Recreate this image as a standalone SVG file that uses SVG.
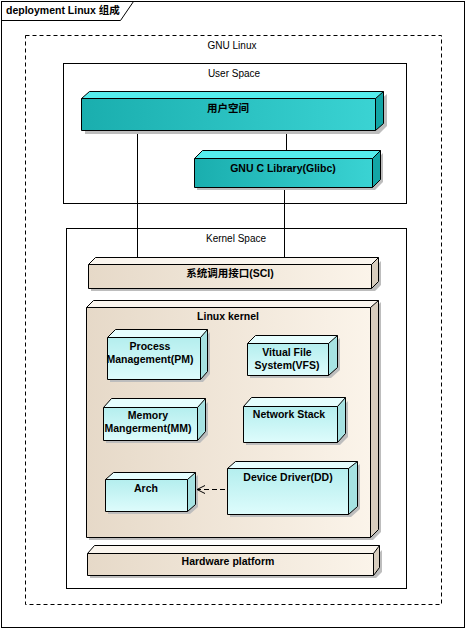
<svg xmlns="http://www.w3.org/2000/svg" width="466" height="629" viewBox="0 0 466 629">
<defs>
<linearGradient id="teal" x1="0" y1="0" x2="1" y2="0">
<stop offset="0" stop-color="#1AAEAE"/><stop offset="1" stop-color="#3AD3D3"/>
</linearGradient>
<linearGradient id="beige" x1="0" y1="0" x2="1" y2="0">
<stop offset="0" stop-color="#E6D9C8"/><stop offset="1" stop-color="#FBF4EA"/>
</linearGradient>
<linearGradient id="cyan" x1="0" y1="0" x2="0" y2="1">
<stop offset="0" stop-color="#B4EEEE"/><stop offset="1" stop-color="#DEFCFC"/>
</linearGradient>
<marker id="open" markerWidth="10" markerHeight="10" refX="9" refY="5" orient="auto" markerUnits="userSpaceOnUse">
<path d="M1,1 L9,5 L1,9" fill="none" stroke="#000" stroke-width="1"/>
</marker>
<style>
text{font-family:"Liberation Sans","Noto Sans CJK SC",sans-serif;font-size:10px;fill:#000}
.b{font-weight:bold;font-size:10.5px}
.shadow{fill:#BDBDBD}
.edge{stroke:#000;stroke-width:1}
.tealT{fill:#55EDED}.tealS{fill:#12A5A5}
.begT{fill:#FAF5EE}.begS{fill:#D8CDBE}
.cyT{fill:#E6FEFE}.cyS{fill:#A6E2E2}
</style>
</defs>
<!-- frame -->
<g id="frame">
<rect x="1.5" y="1.5" width="463" height="626" fill="#fff" stroke="#000"/>
<path d="M1.5,20.5 H120.5 L133.5,1.5" fill="none" stroke="#000"/>
<text x="6" y="14" class="b">deployment Linux 组成</text>
</g>
<g id="gnu-linux">
<rect x="25.5" y="35.5" width="416" height="569" fill="none" stroke="#000" stroke-dasharray="4,3"/>
<text x="232" y="49" text-anchor="middle">GNU Linux</text>
</g>
<g id="user-space">
<rect x="63.5" y="63.5" width="343" height="140" fill="#fff" stroke="#000"/>
<text x="234" y="77" text-anchor="middle">User Space</text>
</g>
<g id="kernel-space">
<rect x="66.5" y="228.5" width="340" height="360" fill="#fff" stroke="#000"/>
<text x="236" y="242" text-anchor="middle">Kernel Space</text>
</g>
<!-- connectors -->
<g id="connectors" fill="none">
<line class="edge" x1="137.5" y1="131" x2="137.5" y2="257"/>
<line class="edge" x1="286.5" y1="131" x2="286.5" y2="151"/>
<line class="edge" x1="284.5" y1="187" x2="284.5" y2="257"/>
</g>
<g id="user-node">
<path class="shadow" d="M85,101 H379 L387,94 V126 L379,134 H85 Z"/>
<polygon class="tealT" points="81.5,98.5 89.5,91.5 383.5,91.5 375.5,98.5"/>
<polygon class="tealS" points="375.5,98.5 383.5,91.5 383.5,123.5 375.5,130.5"/>
<rect x="81.5" y="98.5" width="294" height="32" fill="url(#teal)"/>
<path d="M81.5,98.5 L89.5,91.5 H383.5 V123.5 L375.5,130.5 H81.5 Z M81.5,98.5 H375.5 V130.5 M375.5,98.5 L383.5,91.5" fill="none" stroke="#000"/>
<text x="228" y="112" text-anchor="middle" class="b">用户空间</text>
</g>
<g id="glibc-node">
<path class="shadow" d="M197,161 H375 L383,153 V182 L375,190 H197 Z"/>
<polygon class="tealT" points="194.5,158.5 202.5,150.5 380.5,150.5 372.5,158.5"/>
<polygon class="tealS" points="372.5,158.5 380.5,150.5 380.5,179.5 372.5,187.5"/>
<rect x="194.5" y="158.5" width="178" height="29" fill="url(#teal)"/>
<path d="M194.5,158.5 L202.5,150.5 H380.5 V179.5 L372.5,187.5 H194.5 Z M194.5,158.5 H372.5 V187.5 M372.5,158.5 L380.5,150.5" fill="none" stroke="#000"/>
<text x="283" y="172" text-anchor="middle" class="b">GNU C Library(Glibc)</text>
</g>
<g id="sci-node">
<path class="shadow" d="M91,267 H375 L381,261 V285 L375,291 H91 Z"/>
<polygon class="begT" points="88.5,264.5 95.5,257.5 378.5,257.5 371.5,264.5"/>
<polygon class="begS" points="371.5,264.5 378.5,257.5 378.5,281.5 371.5,288.5"/>
<rect x="88.5" y="264.5" width="283" height="24" fill="url(#beige)"/>
<path d="M88.5,264.5 L95.5,257.5 H378.5 V281.5 L371.5,288.5 H88.5 Z M88.5,264.5 H371.5 V288.5 M371.5,264.5 L378.5,257.5" fill="none" stroke="#000"/>
<text x="230" y="277" text-anchor="middle" class="b">系统调用接口(SCI)</text>
</g>
<g id="kernel-node">
<path class="shadow" d="M89,310 H373 L381,302 V532 L373,540 H89 Z"/>
<polygon class="begT" points="86.5,307.5 93.5,300.5 378.5,300.5 371.5,307.5"/>
<polygon class="begS" points="370.5,307.5 378.5,300.5 378.5,529.5 370.5,537.5"/>
<rect x="86.5" y="307.5" width="284" height="230" fill="url(#beige)"/>
<path d="M86.5,307.5 L93.5,300.5 H378.5 V529.5 L370.5,537.5 H86.5 Z M86.5,307.5 H370.5 V537.5 M370.5,307.5 L378.5,300.5" fill="none" stroke="#000"/>
<text x="228" y="320" text-anchor="middle" class="b">Linux kernel</text>
</g>
<g id="pm-node">
<path class="shadow" d="M110,340 H203 L210,332 V374 L203,382 H110 Z"/>
<polygon class="cyT" points="107.5,337.5 115.5,329.5 207.5,329.5 200.5,337.5"/>
<polygon class="cyS" points="200.5,337.5 207.5,329.5 207.5,371.5 200.5,379.5"/>
<rect x="107.5" y="337.5" width="93" height="42" fill="url(#cyan)"/>
<path d="M107.5,337.5 L115.5,329.5 H207.5 V371.5 L200.5,379.5 H107.5 Z M107.5,337.5 H200.5 V379.5 M200.5,337.5 L207.5,329.5" fill="none" stroke="#000"/>
<text x="150" y="350" text-anchor="middle" class="b">Process</text>
<text x="150" y="363" text-anchor="middle" class="b">Management(PM)</text>
</g>
<g id="vfs-node">
<path class="shadow" d="M250,346 H331 L340,338 V370 L331,378 H250 Z"/>
<polygon class="cyT" points="247.5,343.5 255.5,335.5 337.5,335.5 328.5,343.5"/>
<polygon class="cyS" points="328.5,343.5 337.5,335.5 337.5,367.5 328.5,375.5"/>
<rect x="247.5" y="343.5" width="81" height="32" fill="url(#cyan)"/>
<path d="M247.5,343.5 L255.5,335.5 H337.5 V367.5 L328.5,375.5 H247.5 Z M247.5,343.5 H328.5 V375.5 M328.5,343.5 L337.5,335.5" fill="none" stroke="#000"/>
<text x="287" y="356" text-anchor="middle" class="b">Vitual File</text>
<text x="287" y="369" text-anchor="middle" class="b">System(VFS)</text>
</g>
<g id="mm-node">
<path class="shadow" d="M106,410 H200 L208,402 V435 L200,443 H106 Z"/>
<polygon class="cyT" points="103.5,407.5 111.5,398.5 205.5,398.5 197.5,407.5"/>
<polygon class="cyS" points="197.5,407.5 205.5,398.5 205.5,431.5 197.5,440.5"/>
<rect x="103.5" y="407.5" width="94" height="33" fill="url(#cyan)"/>
<path d="M103.5,407.5 L111.5,398.5 H205.5 V431.5 L197.5,440.5 H103.5 Z M103.5,407.5 H197.5 V440.5 M197.5,407.5 L205.5,398.5" fill="none" stroke="#000"/>
<text x="148" y="419" text-anchor="middle" class="b">Memory</text>
<text x="148" y="432" text-anchor="middle" class="b">Mangerment(MM)</text>
</g>
<g id="net-node">
<path class="shadow" d="M246,409 H340 L348,401 V437 L340,445 H246 Z"/>
<polygon class="cyT" points="243.5,406.5 251.5,397.5 345.5,397.5 337.5,406.5"/>
<polygon class="cyS" points="337.5,406.5 345.5,397.5 345.5,433.5 337.5,442.5"/>
<rect x="243.5" y="406.5" width="94" height="36" fill="url(#cyan)"/>
<path d="M243.5,406.5 L251.5,397.5 H345.5 V433.5 L337.5,442.5 H243.5 Z M243.5,406.5 H337.5 V442.5 M337.5,406.5 L345.5,397.5" fill="none" stroke="#000"/>
<text x="289" y="418" text-anchor="middle" class="b">Network Stack</text>
</g>
<g id="arch-node">
<path class="shadow" d="M108,482 H190 L198,475 V507 L190,514 H108 Z"/>
<polygon class="cyT" points="105.5,479.5 113.5,472.5 195.5,472.5 187.5,479.5"/>
<polygon class="cyS" points="187.5,479.5 195.5,472.5 195.5,504.5 187.5,511.5"/>
<rect x="105.5" y="479.5" width="82" height="32" fill="url(#cyan)"/>
<path d="M105.5,479.5 L113.5,472.5 H195.5 V504.5 L187.5,511.5 H105.5 Z M105.5,479.5 H187.5 V511.5 M187.5,479.5 L195.5,472.5" fill="none" stroke="#000"/>
<text x="146" y="492" text-anchor="middle" class="b">Arch</text>
</g>
<g id="dd-node">
<path class="shadow" d="M230,471 H351 L360,464 V509 L351,517 H230 Z"/>
<polygon class="cyT" points="227.5,468.5 235.5,461.5 357.5,461.5 348.5,468.5"/>
<polygon class="cyS" points="348.5,468.5 357.5,461.5 357.5,506.5 348.5,514.5"/>
<rect x="227.5" y="468.5" width="121" height="46" fill="url(#cyan)"/>
<path d="M227.5,468.5 L235.5,461.5 H357.5 V506.5 L348.5,514.5 H227.5 Z M227.5,468.5 H348.5 V514.5 M348.5,468.5 L357.5,461.5" fill="none" stroke="#000"/>
<text x="288" y="481" text-anchor="middle" class="b">Device Driver(DD)</text>
</g>
<g id="connectors-dep">
<line class="edge" x1="225" y1="489.5" x2="197" y2="489.5" stroke-dasharray="5,3" marker-end="url(#open)"/>
</g>
<g id="hw-node">
<path class="shadow" d="M90,556 H376 L382,550 V572 L376,578 H90 Z"/>
<polygon class="begT" points="87.5,553.5 94.5,545.5 379.5,545.5 373.5,553.5"/>
<polygon class="begS" points="373.5,553.5 379.5,545.5 379.5,567.5 373.5,575.5"/>
<rect x="87.5" y="553.5" width="286" height="22" fill="url(#beige)"/>
<path d="M87.5,553.5 L94.5,545.5 H379.5 V567.5 L373.5,575.5 H87.5 Z M87.5,553.5 H373.5 V575.5 M373.5,553.5 L379.5,545.5" fill="none" stroke="#000"/>
<text x="228" y="565" text-anchor="middle" class="b">Hardware platform</text>
</g>
</svg>
